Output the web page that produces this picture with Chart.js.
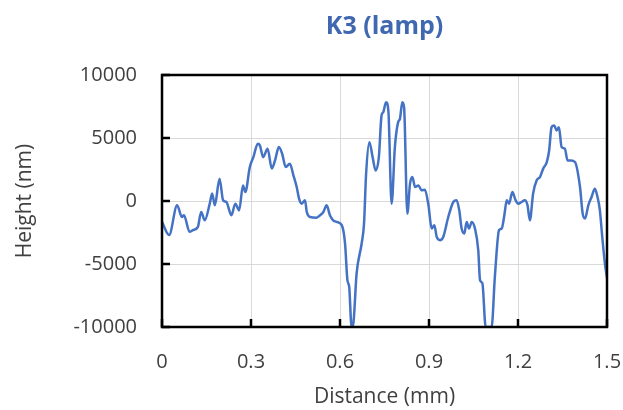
<!DOCTYPE html>
<html>
<head>
<meta charset="utf-8">
<script src="https://cdn.jsdelivr.net/npm/chart.js@4/dist/chart.umd.min.js"></script>
<style>
  html, body { margin: 0; padding: 0; background: #ffffff; }
  #wrap { width: 623px; height: 410px; }
</style>
</head>
<body>
<div id="wrap"><canvas id="profile" width="623" height="410"></canvas></div>
<script>
// Surface profile of sample K3 (lamp)
const distanceMm = [
  0.000, 0.024, 0.051, 0.067, 0.074, 0.093, 0.104, 0.121, 0.132, 0.144,
  0.161, 0.169, 0.178, 0.194, 0.206, 0.217, 0.234, 0.247, 0.260, 0.273,
  0.281, 0.296, 0.308, 0.323, 0.330, 0.341, 0.356, 0.370, 0.381, 0.394,
  0.405, 0.417, 0.431, 0.443, 0.454, 0.462, 0.471, 0.482, 0.488, 0.499,
  0.521, 0.533, 0.544, 0.555, 0.566, 0.577, 0.589, 0.606, 0.617, 0.625,
  0.631, 0.639, 0.645, 0.656, 0.673, 0.681, 0.688, 0.699, 0.710, 0.720,
  0.731, 0.740, 0.746, 0.755, 0.763, 0.774, 0.785, 0.796, 0.802, 0.810,
  0.816, 0.827, 0.836, 0.844, 0.853, 0.864, 0.875, 0.886, 0.898, 0.909,
  0.918, 0.926, 0.937, 0.948, 0.965, 0.982, 0.993, 1.002, 1.010, 1.019,
  1.027, 1.035, 1.044, 1.055, 1.066, 1.072, 1.080, 1.091, 1.111, 1.122,
  1.136, 1.145, 1.154, 1.162, 1.170, 1.181, 1.192, 1.201, 1.212, 1.223,
  1.232, 1.240, 1.251, 1.263, 1.274, 1.285, 1.297, 1.305, 1.313, 1.322,
  1.330, 1.338, 1.347, 1.358, 1.367, 1.378, 1.392, 1.409, 1.418, 1.426,
  1.437, 1.448, 1.459, 1.468, 1.476, 1.484, 1.493, 1.500
];
const heightNm = [
  -1650, -2700, -340, -1270, -1130, -2450, -2320, -2050, -870, -1530,
  -210, 590, -340, 1770, 60, -80, -1130, -210, -740, 1240,
  710, 2700, 3480, 4540, 4410, 3480, 4150, 2570, 3220, 4280,
  3750, 2690, 2960, 2030, 1110, 190, -210, 60, -870, -1270,
  -1320, -1130, -870, -340, -1130, -1530, -1660, -1920, -3370, -6280,
  -6810, -10000, -9710, -5750, -3370, -1790, 2170, 4670, 3480, 2430,
  3480, 6790, 7050, 7840, 7180, -210, 4280, 6260, 6520, 7840,
  7440, -1000, 1380, 1900, 1110, 1240, 850, 900, -300, -2190,
  -1920, -2850, -3110, -2850, -1270, -80, 60, -740, -2190, -2580,
  -1660, -2190, -1660, -2190, -3900, -6280, -6540, -10000, -10000, -6020,
  -2320, -2190, -1130, 60, -210, 710, 60, -210, -80, 60,
  -340, -1530, 590, 1640, 1900, 2570, 3090, 4010, 5860, 5990,
  5600, 5860, 4280, 4150, 3220, 3220, 3090, 1110, -1000, -1390,
  -340, 320, 980, 320, -740, -2850, -4960, -6100
];
const xTickValues = [0, 0.3, 0.6, 0.9, 1.2, 1.5];
const yTickValues = [-10000, -5000, 0, 5000, 10000];

const chartTitle = 'K3 (lamp)';
const xAxisTitle = 'Distance (mm)';
const yAxisTitle = 'Height (nm)';

const points = distanceMm.map((d, i) => ({ x: d, y: heightNm[i] }));

const textColor = '#404040';
const fontFamily = '"Open Sans", "Liberation Sans", sans-serif';

// Black frame around the plot area with short inward tick marks
const plotFrame = {
  id: 'plotFrame',
  afterDatasetsDraw(chart) {
    const { ctx, chartArea: a, scales } = chart;
    const tickLen = 8;
    ctx.save();
    ctx.strokeStyle = '#000000';
    ctx.lineWidth = 2.5;
    ctx.beginPath();
    scales.y.ticks.forEach(t => {
      const py = scales.y.getPixelForValue(t.value);
      ctx.moveTo(a.left, py);
      ctx.lineTo(a.left + tickLen, py);
    });
    scales.x.ticks.forEach(t => {
      const px = scales.x.getPixelForValue(t.value);
      ctx.moveTo(px, a.bottom);
      ctx.lineTo(px, a.bottom - tickLen);
    });
    ctx.stroke();
    ctx.strokeRect(a.left, a.top, a.right - a.left, a.bottom - a.top);
    ctx.restore();
  }
};

new Chart(document.getElementById('profile'), {
  type: 'line',
  data: {
    datasets: [{
      data: points,
      borderColor: '#4472C4',
      borderWidth: 2.5,
      pointRadius: 0,
      tension: 0.2,
      cubicInterpolationMode: 'monotone',
      fill: false
    }]
  },
  options: {
    responsive: false,
    animation: false,
    devicePixelRatio: 1,
    layout: { padding: { left: 0, right: 16, top: 0, bottom: 0 } },
    plugins: {
      legend: { display: false },
      tooltip: { enabled: false },
      title: {
        display: true,
        text: chartTitle,
        fullSize: false,
        color: '#3F68B0',
        font: { family: fontFamily, size: 25, weight: 'bold' },
        padding: { top: 12, bottom: 33 }
      }
    },
    scales: {
      x: {
        type: 'linear',
        min: 0,
        max: 1.5,
        afterBuildTicks(scale) {
          scale.ticks = xTickValues.map(v => ({ value: v }));
        },
        afterFit(scale) {
          scale.height = 83;
          scale.paddingLeft = 0;
          scale.paddingRight = 0;
        },
        grid: { color: '#d9d9d9', lineWidth: 1, drawTicks: false },
        border: { display: false },
        ticks: {
          color: textColor,
          padding: 23,
          maxRotation: 0,
          font: { family: fontFamily, size: 20 },
          callback: v => String(Math.round(v * 10) / 10)
        },
        title: {
          display: true,
          text: xAxisTitle,
          color: textColor,
          font: { family: fontFamily, size: 21 },
          padding: { top: 0, bottom: 0 }
        }
      },
      y: {
        type: 'linear',
        min: -10000,
        max: 10000,
        afterBuildTicks(scale) {
          scale.ticks = yTickValues.map(v => ({ value: v }));
        },
        afterFit(scale) { scale.width = 162; },
        grid: { color: '#d9d9d9', lineWidth: 1, drawTicks: false },
        border: { display: false },
        ticks: {
          color: textColor,
          padding: 25,
          font: { family: fontFamily, size: 20 },
          callback: v => String(v)
        },
        title: {
          display: true,
          text: yAxisTitle,
          color: textColor,
          font: { family: fontFamily, size: 21 },
          padding: { top: 12, bottom: 0 }
        }
      }
    }
  },
  plugins: [plotFrame]
});
</script>
</body>
</html>
